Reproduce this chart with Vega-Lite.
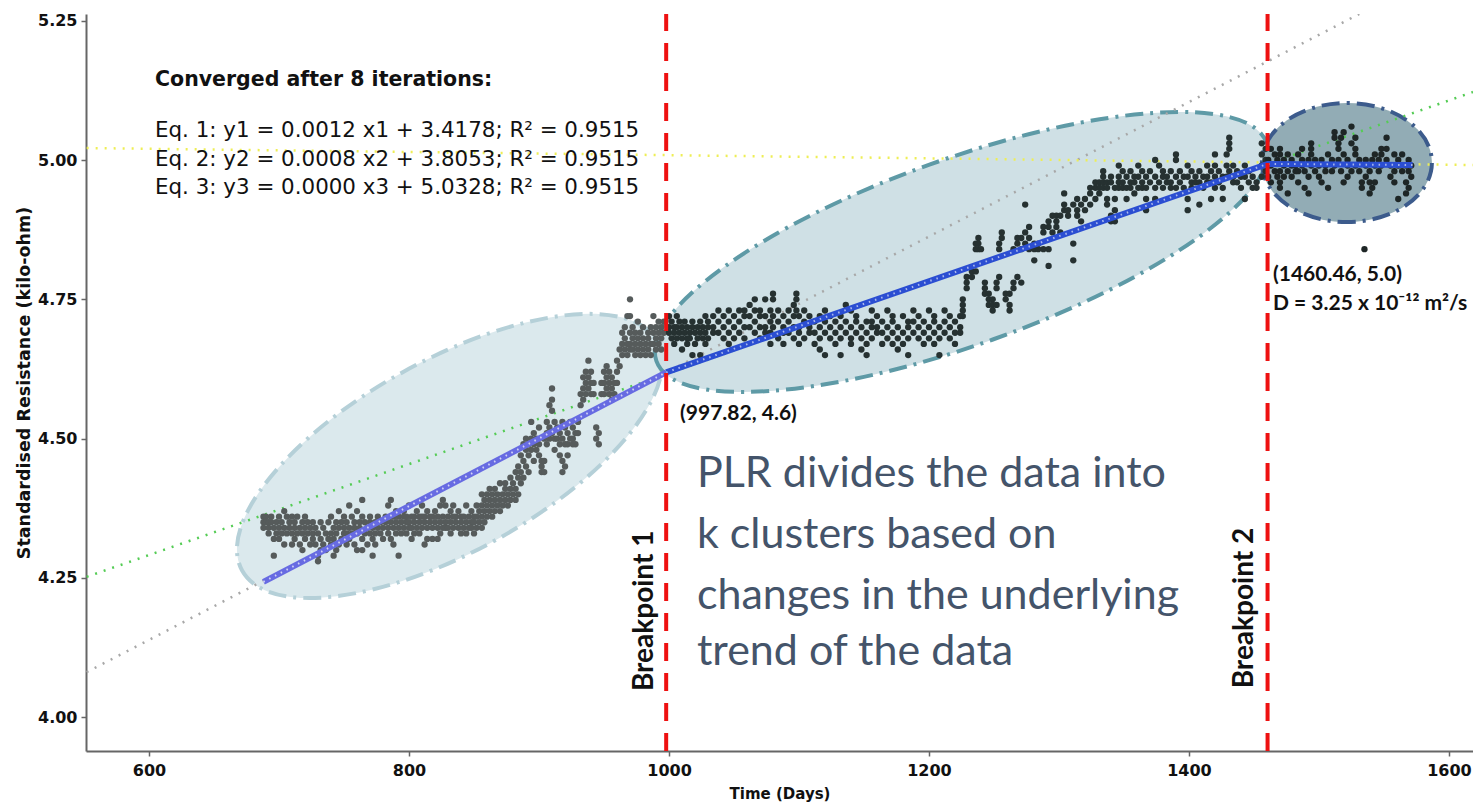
{
"$schema":"https://vega.github.io/schema/vega-lite/v6.json",
"width":1387,"height":737,
"autosize":{"type":"none"},
"padding":{"left":86,"top":14,"right":0,"bottom":54},
"background":"white",
"config":{"view":{"stroke":null},
"axis":{"domainColor":"#666","domainWidth":2,"tickColor":"#666","tickWidth":1.5,"tickSize":5,"grid":false,"labelFont":"DejaVu Sans","labelFontWeight":"bold","labelFontSize":16,"labelColor":"#111","titleFont":"DejaVu Sans","titleFontWeight":"bold","titleFontSize":15,"titleColor":"#111","labelFlush":false,"labelOverlap":false}},
"datasets":{
"e1":[{"x":831.2,"y":4.469}],
"e2":[{"x":1225,"y":4.835}],
"e3":[{"x":1521.5,"y":4.9955}],
"g1":[{"x":552,"y":4.081},{"x":1531,"y":5.262}],
"g2":[{"x":552,"y":4.252},{"x":1618.5,"y":5.122}],
"g3":[{"x":552,"y":5.0215},{"x":1618.5,"y":4.991}],
"s1":[{"x":688,"y":4.243},{"x":997.82,"y":4.619}],
"s2":[{"x":997.82,"y":4.619},{"x":1460.46,"y":4.993},{"x":1572,"y":4.991}],
"bpl":[{"x":997.82,"y":3.9395,"y2":5.262},{"x":1460.46,"y":3.9395,"y2":5.262}],
"c1":[
{"x":688,"y":4.36},{"x":688,"y":4.35},{"x":688,"y":4.34},{"x":690,"y":4.35},{"x":690,"y":4.36},{"x":692,"y":4.34},{"x":692,"y":4.35},{"x":692,"y":4.33},{"x":694,"y":4.36},{"x":694,"y":4.35},{"x":696,"y":4.34},{"x":696,"y":4.32},{"x":696,"y":4.29},{"x":698,"y":4.35},{"x":698,"y":4.33},{"x":700,"y":4.36},{"x":700,"y":4.34},{"x":700,"y":4.32},{"x":702,"y":4.35},{"x":702,"y":4.33},{"x":704,"y":4.37},{"x":704,"y":4.34},{"x":704,"y":4.31},{"x":706,"y":4.36},{"x":706,"y":4.33},{"x":708,"y":4.35},{"x":708,"y":4.34},{"x":710,"y":4.36},{"x":710,"y":4.33},{"x":710,"y":4.31},{"x":712,"y":4.35},{"x":712,"y":4.34},{"x":712,"y":4.32},{"x":714,"y":4.36},{"x":714,"y":4.33},{"x":716,"y":4.34},{"x":716,"y":4.31},{"x":718,"y":4.35},{"x":718,"y":4.33},{"x":718,"y":4.30},{"x":720,"y":4.36},{"x":720,"y":4.34},{"x":720,"y":4.32},{"x":722,"y":4.35},{"x":722,"y":4.33},{"x":724,"y":4.34},{"x":724,"y":4.31},{"x":726,"y":4.35},{"x":726,"y":4.33},{"x":726,"y":4.32},{"x":728,"y":4.34},{"x":728,"y":4.31},{"x":730,"y":4.33},{"x":730,"y":4.29},{"x":730,"y":4.28},{"x":732,"y":4.35},{"x":732,"y":4.32},{"x":732,"y":4.30},{"x":734,"y":4.34},{"x":734,"y":4.31},{"x":736,"y":4.33},{"x":736,"y":4.30},{"x":738,"y":4.35},{"x":738,"y":4.32},{"x":740,"y":4.36},{"x":740,"y":4.33},{"x":740,"y":4.31},{"x":742,"y":4.34},{"x":742,"y":4.32},{"x":742,"y":4.29},{"x":744,"y":4.35},{"x":744,"y":4.33},{"x":744,"y":4.30},{"x":746,"y":4.37},{"x":746,"y":4.34},{"x":746,"y":4.31},{"x":748,"y":4.35},{"x":748,"y":4.32},{"x":750,"y":4.36},{"x":750,"y":4.34},{"x":750,"y":4.33},{"x":752,"y":4.35},{"x":752,"y":4.33},{"x":752,"y":4.31},{"x":754,"y":4.38},{"x":754,"y":4.34},{"x":754,"y":4.32},{"x":756,"y":4.36},{"x":756,"y":4.33},{"x":758,"y":4.35},{"x":758,"y":4.34},{"x":758,"y":4.31},{"x":760,"y":4.37},{"x":760,"y":4.33},{"x":760,"y":4.30},{"x":762,"y":4.35},{"x":762,"y":4.34},{"x":764,"y":4.39},{"x":764,"y":4.36},{"x":764,"y":4.32},{"x":764,"y":4.30},{"x":766,"y":4.35},{"x":766,"y":4.33},{"x":768,"y":4.34},{"x":768,"y":4.31},{"x":770,"y":4.36},{"x":770,"y":4.35},{"x":770,"y":4.33},{"x":772,"y":4.34},{"x":772,"y":4.32},{"x":772,"y":4.29},{"x":774,"y":4.35},{"x":774,"y":4.33},{"x":774,"y":4.31},{"x":776,"y":4.36},{"x":776,"y":4.34},{"x":778,"y":4.35},{"x":778,"y":4.33},{"x":780,"y":4.34},{"x":780,"y":4.32},{"x":782,"y":4.36},{"x":782,"y":4.35},{"x":784,"y":4.38},{"x":784,"y":4.34},{"x":784,"y":4.33},{"x":786,"y":4.39},{"x":786,"y":4.35},{"x":786,"y":4.32},{"x":788,"y":4.36},{"x":788,"y":4.34},{"x":788,"y":4.31},{"x":790,"y":4.37},{"x":790,"y":4.35},{"x":790,"y":4.33},{"x":792,"y":4.36},{"x":792,"y":4.34},{"x":792,"y":4.29},{"x":794,"y":4.35},{"x":794,"y":4.33},{"x":796,"y":4.37},{"x":796,"y":4.36},{"x":796,"y":4.34},{"x":798,"y":4.36},{"x":798,"y":4.35},{"x":798,"y":4.33},{"x":800,"y":4.38},{"x":800,"y":4.35},{"x":800,"y":4.34},{"x":802,"y":4.36},{"x":802,"y":4.34},{"x":802,"y":4.32},{"x":804,"y":4.36},{"x":804,"y":4.35},{"x":804,"y":4.33},{"x":806,"y":4.37},{"x":806,"y":4.34},{"x":808,"y":4.36},{"x":808,"y":4.35},{"x":808,"y":4.33},{"x":810,"y":4.38},{"x":810,"y":4.36},{"x":810,"y":4.34},{"x":812,"y":4.36},{"x":812,"y":4.35},{"x":812,"y":4.31},{"x":814,"y":4.37},{"x":814,"y":4.34},{"x":814,"y":4.32},{"x":816,"y":4.36},{"x":816,"y":4.35},{"x":818,"y":4.36},{"x":818,"y":4.34},{"x":818,"y":4.32},{"x":820,"y":4.37},{"x":820,"y":4.35},{"x":822,"y":4.36},{"x":822,"y":4.34},{"x":822,"y":4.32},{"x":824,"y":4.38},{"x":824,"y":4.35},{"x":824,"y":4.33},{"x":826,"y":4.39},{"x":826,"y":4.36},{"x":826,"y":4.34},{"x":828,"y":4.38},{"x":828,"y":4.35},{"x":828,"y":4.34},{"x":830,"y":4.36},{"x":830,"y":4.34},{"x":832,"y":4.37},{"x":832,"y":4.35},{"x":832,"y":4.33},{"x":834,"y":4.38},{"x":834,"y":4.36},{"x":834,"y":4.34},{"x":836,"y":4.36},{"x":836,"y":4.35},{"x":838,"y":4.37},{"x":838,"y":4.34},{"x":840,"y":4.36},{"x":840,"y":4.35},{"x":840,"y":4.33},{"x":842,"y":4.36},{"x":842,"y":4.34},{"x":844,"y":4.38},{"x":844,"y":4.35},{"x":844,"y":4.33},{"x":846,"y":4.36},{"x":846,"y":4.34},{"x":848,"y":4.37},{"x":848,"y":4.35},{"x":848,"y":4.34},{"x":850,"y":4.36},{"x":850,"y":4.35},{"x":850,"y":4.33},{"x":852,"y":4.38},{"x":852,"y":4.36},{"x":852,"y":4.34},{"x":854,"y":4.37},{"x":854,"y":4.35},{"x":856,"y":4.40},{"x":856,"y":4.38},{"x":856,"y":4.36},{"x":856,"y":4.34},{"x":858,"y":4.39},{"x":858,"y":4.37},{"x":858,"y":4.35},{"x":860,"y":4.40},{"x":860,"y":4.38},{"x":860,"y":4.36},
{"x":862,"y":4.41},{"x":862,"y":4.39},{"x":862,"y":4.37},{"x":864,"y":4.40},{"x":864,"y":4.38},{"x":864,"y":4.36},{"x":866,"y":4.41},{"x":866,"y":4.39},{"x":866,"y":4.37},{"x":868,"y":4.40},{"x":868,"y":4.38},{"x":870,"y":4.42},{"x":870,"y":4.39},{"x":870,"y":4.37},{"x":872,"y":4.40},{"x":872,"y":4.38},{"x":874,"y":4.42},{"x":874,"y":4.41},{"x":874,"y":4.39},{"x":876,"y":4.40},{"x":876,"y":4.38},{"x":878,"y":4.43},{"x":878,"y":4.41},{"x":878,"y":4.39},{"x":880,"y":4.42},{"x":880,"y":4.40},{"x":882,"y":4.44},{"x":882,"y":4.41},{"x":882,"y":4.39},{"x":884,"y":4.45},{"x":884,"y":4.43},{"x":884,"y":4.40},{"x":886,"y":4.47},{"x":886,"y":4.44},{"x":886,"y":4.42},{"x":888,"y":4.49},{"x":888,"y":4.46},{"x":888,"y":4.43},{"x":890,"y":4.50},{"x":890,"y":4.48},{"x":890,"y":4.45},{"x":892,"y":4.49},{"x":892,"y":4.47},{"x":892,"y":4.44},{"x":894,"y":4.53},{"x":894,"y":4.50},{"x":894,"y":4.48},{"x":896,"y":4.51},{"x":896,"y":4.49},{"x":896,"y":4.46},{"x":898,"y":4.50},{"x":898,"y":4.48},{"x":900,"y":4.52},{"x":900,"y":4.49},{"x":900,"y":4.47},{"x":902,"y":4.46},{"x":902,"y":4.45},{"x":902,"y":4.44},{"x":904,"y":4.50},{"x":904,"y":4.46},{"x":904,"y":4.44},{"x":906,"y":4.53},{"x":906,"y":4.51},{"x":906,"y":4.49},{"x":908,"y":4.56},{"x":908,"y":4.52},{"x":908,"y":4.50},{"x":910,"y":4.59},{"x":910,"y":4.57},{"x":910,"y":4.55},{"x":910,"y":4.51},{"x":912,"y":4.53},{"x":912,"y":4.50},{"x":912,"y":4.48},{"x":914,"y":4.52},{"x":914,"y":4.50},{"x":916,"y":4.51},{"x":916,"y":4.49},{"x":916,"y":4.47},{"x":918,"y":4.53},{"x":918,"y":4.50},{"x":918,"y":4.46},{"x":918,"y":4.44},{"x":920,"y":4.52},{"x":920,"y":4.49},{"x":920,"y":4.45},{"x":922,"y":4.51},{"x":922,"y":4.49},{"x":922,"y":4.47},{"x":924,"y":4.53},{"x":924,"y":4.50},{"x":926,"y":4.52},{"x":926,"y":4.50},{"x":926,"y":4.49},{"x":928,"y":4.51},{"x":928,"y":4.49},{"x":930,"y":4.53},{"x":930,"y":4.51},{"x":932,"y":4.58},{"x":932,"y":4.56},{"x":934,"y":4.61},{"x":934,"y":4.59},{"x":934,"y":4.57},{"x":936,"y":4.62},{"x":936,"y":4.60},{"x":936,"y":4.58},{"x":938,"y":4.64},{"x":938,"y":4.61},{"x":938,"y":4.59},{"x":940,"y":4.62},{"x":940,"y":4.60},{"x":940,"y":4.58},{"x":942,"y":4.60},{"x":942,"y":4.58},{"x":944,"y":4.52},{"x":944,"y":4.50},{"x":946,"y":4.51},{"x":946,"y":4.49},{"x":948,"y":4.60},{"x":948,"y":4.58},{"x":950,"y":4.62},{"x":950,"y":4.60},{"x":950,"y":4.58},{"x":952,"y":4.63},{"x":952,"y":4.61},{"x":952,"y":4.59},{"x":954,"y":4.62},{"x":954,"y":4.60},{"x":954,"y":4.58},{"x":956,"y":4.61},{"x":956,"y":4.59},{"x":956,"y":4.57},{"x":958,"y":4.60},{"x":958,"y":4.58},{"x":960,"y":4.64},{"x":960,"y":4.62},{"x":960,"y":4.60},{"x":962,"y":4.66},{"x":962,"y":4.63},{"x":964,"y":4.69},{"x":964,"y":4.67},{"x":964,"y":4.65},{"x":966,"y":4.70},{"x":966,"y":4.68},{"x":966,"y":4.66},{"x":968,"y":4.72},{"x":968,"y":4.67},{"x":968,"y":4.65},{"x":970,"y":4.75},{"x":970,"y":4.72},{"x":970,"y":4.69},{"x":970,"y":4.67},{"x":970,"y":4.66},{"x":972,"y":4.70},{"x":972,"y":4.68},{"x":972,"y":4.66},{"x":974,"y":4.69},{"x":974,"y":4.67},{"x":974,"y":4.65},{"x":976,"y":4.71},{"x":976,"y":4.68},{"x":976,"y":4.66},{"x":978,"y":4.69},{"x":978,"y":4.67},{"x":978,"y":4.65},{"x":980,"y":4.70},{"x":980,"y":4.68},{"x":980,"y":4.66},{"x":982,"y":4.67},{"x":982,"y":4.65},{"x":984,"y":4.69},{"x":984,"y":4.68},{"x":984,"y":4.66},{"x":986,"y":4.70},{"x":986,"y":4.67},{"x":986,"y":4.65},{"x":988,"y":4.72},{"x":988,"y":4.69},{"x":988,"y":4.67},{"x":990,"y":4.70},{"x":990,"y":4.68},{"x":990,"y":4.66},{"x":992,"y":4.71},{"x":992,"y":4.69},{"x":992,"y":4.67},{"x":994,"y":4.70},{"x":994,"y":4.68},{"x":994,"y":4.66},{"x":996,"y":4.71},{"x":996,"y":4.69}],
"c2":[
{"x":1000,"y":4.72},{"x":1000,"y":4.70},{"x":1000,"y":4.69},{"x":1002,"y":4.71},{"x":1002,"y":4.68},{"x":1004,"y":4.70},{"x":1004,"y":4.69},{"x":1004,"y":4.67},{"x":1006,"y":4.72},{"x":1006,"y":4.70},{"x":1006,"y":4.68},{"x":1008,"y":4.71},{"x":1008,"y":4.69},{"x":1010,"y":4.70},{"x":1010,"y":4.68},{"x":1010,"y":4.66},{"x":1012,"y":4.71},{"x":1012,"y":4.69},{"x":1014,"y":4.70},{"x":1014,"y":4.68},{"x":1014,"y":4.67},{"x":1016,"y":4.69},{"x":1016,"y":4.68},{"x":1018,"y":4.71},{"x":1018,"y":4.70},{"x":1018,"y":4.65},{"x":1020,"y":4.69},{"x":1020,"y":4.67},{"x":1022,"y":4.70},{"x":1022,"y":4.68},{"x":1024,"y":4.71},{"x":1024,"y":4.69},{"x":1024,"y":4.65},{"x":1026,"y":4.70},{"x":1026,"y":4.68},{"x":1028,"y":4.72},{"x":1028,"y":4.69},{"x":1028,"y":4.67},{"x":1030,"y":4.71},{"x":1030,"y":4.70},{"x":1030,"y":4.68},{"x":1034,"y":4.72},{"x":1034,"y":4.70},{"x":1034,"y":4.69},{"x":1038,"y":4.73},{"x":1038,"y":4.71},{"x":1038,"y":4.69},{"x":1042,"y":4.72},{"x":1042,"y":4.70},{"x":1042,"y":4.68},{"x":1046,"y":4.73},{"x":1046,"y":4.71},{"x":1046,"y":4.69},{"x":1046,"y":4.67},{"x":1050,"y":4.72},{"x":1050,"y":4.70},{"x":1050,"y":4.68},{"x":1054,"y":4.73},{"x":1054,"y":4.71},{"x":1054,"y":4.69},{"x":1058,"y":4.73},{"x":1058,"y":4.72},{"x":1058,"y":4.70},{"x":1058,"y":4.68},{"x":1062,"y":4.74},{"x":1062,"y":4.72},{"x":1062,"y":4.70},{"x":1066,"y":4.75},{"x":1066,"y":4.73},{"x":1066,"y":4.71},{"x":1066,"y":4.69},{"x":1070,"y":4.73},{"x":1070,"y":4.72},{"x":1070,"y":4.70},{"x":1070,"y":4.68},{"x":1074,"y":4.75},{"x":1074,"y":4.72},{"x":1074,"y":4.70},{"x":1074,"y":4.69},{"x":1078,"y":4.73},{"x":1078,"y":4.71},{"x":1078,"y":4.69},{"x":1078,"y":4.67},{"x":1080,"y":4.76},{"x":1080,"y":4.75},{"x":1080,"y":4.72},{"x":1080,"y":4.70},{"x":1084,"y":4.73},{"x":1084,"y":4.71},{"x":1084,"y":4.68},{"x":1088,"y":4.72},{"x":1088,"y":4.70},{"x":1088,"y":4.69},{"x":1088,"y":4.67},{"x":1092,"y":4.73},{"x":1092,"y":4.71},{"x":1092,"y":4.69},{"x":1096,"y":4.74},{"x":1096,"y":4.72},{"x":1096,"y":4.70},{"x":1096,"y":4.68},{"x":1098,"y":4.76},{"x":1098,"y":4.75},{"x":1098,"y":4.73},{"x":1100,"y":4.72},{"x":1100,"y":4.70},{"x":1100,"y":4.69},{"x":1100,"y":4.67},{"x":1104,"y":4.73},{"x":1104,"y":4.71},{"x":1104,"y":4.68},{"x":1108,"y":4.72},{"x":1108,"y":4.70},{"x":1108,"y":4.69},{"x":1112,"y":4.71},{"x":1112,"y":4.69},{"x":1112,"y":4.67},{"x":1116,"y":4.72},{"x":1116,"y":4.70},{"x":1116,"y":4.68},{"x":1116,"y":4.66},{"x":1120,"y":4.73},{"x":1120,"y":4.71},{"x":1120,"y":4.69},{"x":1120,"y":4.65},{"x":1124,"y":4.72},{"x":1124,"y":4.70},{"x":1124,"y":4.68},{"x":1128,"y":4.71},{"x":1128,"y":4.69},{"x":1128,"y":4.67},{"x":1132,"y":4.72},{"x":1132,"y":4.70},{"x":1132,"y":4.68},{"x":1132,"y":4.65},{"x":1136,"y":4.74},{"x":1136,"y":4.71},{"x":1136,"y":4.69},{"x":1140,"y":4.73},{"x":1140,"y":4.70},{"x":1140,"y":4.68},{"x":1140,"y":4.67},{"x":1144,"y":4.72},{"x":1144,"y":4.71},{"x":1144,"y":4.69},{"x":1148,"y":4.70},{"x":1148,"y":4.68},{"x":1148,"y":4.66},{"x":1152,"y":4.71},{"x":1152,"y":4.69},{"x":1152,"y":4.67},{"x":1152,"y":4.65},{"x":1156,"y":4.73},{"x":1156,"y":4.71},{"x":1156,"y":4.70},{"x":1156,"y":4.68},{"x":1160,"y":4.72},{"x":1160,"y":4.70},{"x":1160,"y":4.69},{"x":1164,"y":4.71},{"x":1164,"y":4.69},{"x":1164,"y":4.67},{"x":1168,"y":4.73},{"x":1168,"y":4.70},{"x":1168,"y":4.68},{"x":1172,"y":4.72},{"x":1172,"y":4.71},{"x":1172,"y":4.69},{"x":1172,"y":4.67},{"x":1176,"y":4.70},{"x":1176,"y":4.68},{"x":1176,"y":4.66},{"x":1180,"y":4.72},{"x":1180,"y":4.69},{"x":1180,"y":4.67},{"x":1184,"y":4.71},{"x":1184,"y":4.70},{"x":1184,"y":4.68},{"x":1184,"y":4.65},{"x":1188,"y":4.73},{"x":1188,"y":4.71},{"x":1188,"y":4.69},{"x":1192,"y":4.72},{"x":1192,"y":4.70},{"x":1192,"y":4.68},{"x":1196,"y":4.71},{"x":1196,"y":4.69},{"x":1196,"y":4.67},{"x":1200,"y":4.73},{"x":1200,"y":4.70},{"x":1200,"y":4.68},{"x":1204,"y":4.72},{"x":1204,"y":4.71},{"x":1204,"y":4.69},{"x":1204,"y":4.67},{"x":1208,"y":4.70},{"x":1208,"y":4.68},{"x":1208,"y":4.65},{"x":1212,"y":4.73},{"x":1212,"y":4.71},{"x":1212,"y":4.69},{"x":1216,"y":4.72},{"x":1216,"y":4.70},{"x":1216,"y":4.68},{"x":1220,"y":4.71},{"x":1220,"y":4.69},{"x":1220,"y":4.67},{"x":1224,"y":4.72},{"x":1224,"y":4.70},{"x":1224,"y":4.69},{"x":1226,"y":4.75},{"x":1226,"y":4.74},{"x":1226,"y":4.73},{"x":1226,"y":4.72},
{"x":1229,"y":4.77},{"x":1229,"y":4.78},{"x":1229,"y":4.79},{"x":1233,"y":4.79},{"x":1233,"y":4.80},{"x":1236,"y":4.80},{"x":1236,"y":4.84},{"x":1236,"y":4.85},{"x":1238,"y":4.86},{"x":1238,"y":4.85},{"x":1238,"y":4.84},{"x":1240,"y":4.84},{"x":1243,"y":4.78},{"x":1243,"y":4.77},{"x":1243,"y":4.76},{"x":1246,"y":4.76},{"x":1246,"y":4.75},{"x":1246,"y":4.74},{"x":1249,"y":4.75},{"x":1249,"y":4.74},{"x":1249,"y":4.73},{"x":1252,"y":4.74},{"x":1252,"y":4.77},{"x":1252,"y":4.78},{"x":1254,"y":4.79},{"x":1254,"y":4.84},{"x":1254,"y":4.85},{"x":1256,"y":4.86},{"x":1256,"y":4.87},{"x":1259,"y":4.76},{"x":1259,"y":4.75},{"x":1262,"y":4.74},{"x":1262,"y":4.73},{"x":1262,"y":4.76},{"x":1265,"y":4.78},{"x":1265,"y":4.77},{"x":1265,"y":4.84},{"x":1268,"y":4.79},{"x":1268,"y":4.85},{"x":1268,"y":4.86},{"x":1271,"y":4.78},{"x":1271,"y":4.84},{"x":1271,"y":4.86},{"x":1274,"y":4.85},{"x":1274,"y":4.87},{"x":1274,"y":4.92},{"x":1277,"y":4.88},{"x":1277,"y":4.86},{"x":1277,"y":4.84},{"x":1281,"y":4.85},{"x":1281,"y":4.82},{"x":1281,"y":4.84},{"x":1284,"y":4.84},{"x":1284,"y":4.85},{"x":1288,"y":4.87},{"x":1288,"y":4.84},{"x":1288,"y":4.88},{"x":1292,"y":4.81},{"x":1292,"y":4.84},{"x":1292,"y":4.88},{"x":1292,"y":4.89},{"x":1295,"y":4.90},{"x":1295,"y":4.87},{"x":1298,"y":4.89},{"x":1298,"y":4.88},{"x":1298,"y":4.90},{"x":1301,"y":4.90},{"x":1301,"y":4.87},{"x":1304,"y":4.91},{"x":1304,"y":4.92},{"x":1304,"y":4.94},{"x":1307,"y":4.90},{"x":1307,"y":4.91},{"x":1311,"y":4.82},{"x":1311,"y":4.85},{"x":1311,"y":4.92},{"x":1314,"y":4.91},{"x":1314,"y":4.90},{"x":1314,"y":4.93},{"x":1317,"y":4.89},{"x":1317,"y":4.92},{"x":1320,"y":4.93},{"x":1320,"y":4.91},{"x":1324,"y":4.94},{"x":1324,"y":4.92},{"x":1324,"y":4.95},{"x":1328,"y":4.95},{"x":1328,"y":4.96},{"x":1328,"y":4.93},{"x":1331,"y":4.96},{"x":1331,"y":4.95},{"x":1331,"y":4.94},{"x":1334,"y":4.97},{"x":1334,"y":4.96},{"x":1334,"y":4.95},{"x":1334,"y":4.98},{"x":1337,"y":4.96},{"x":1337,"y":4.95},{"x":1337,"y":4.93},{"x":1337,"y":4.92},{"x":1340,"y":4.96},{"x":1340,"y":4.97},{"x":1340,"y":4.89},{"x":1340,"y":4.90},{"x":1343,"y":4.95},{"x":1343,"y":4.93},{"x":1343,"y":4.91},{"x":1343,"y":4.89},{"x":1346,"y":4.97},{"x":1346,"y":4.96},{"x":1346,"y":4.95},{"x":1346,"y":4.99},{"x":1349,"y":4.98},{"x":1349,"y":4.96},{"x":1349,"y":4.95},{"x":1352,"y":4.97},{"x":1352,"y":4.95},{"x":1352,"y":4.93},{"x":1355,"y":4.98},{"x":1355,"y":4.96},{"x":1355,"y":4.95},{"x":1358,"y":4.97},{"x":1358,"y":4.96},{"x":1358,"y":4.94},{"x":1361,"y":4.99},{"x":1361,"y":4.97},{"x":1361,"y":4.95},{"x":1364,"y":4.98},{"x":1364,"y":4.96},{"x":1364,"y":4.95},{"x":1367,"y":4.97},{"x":1367,"y":4.95},{"x":1367,"y":4.93},{"x":1367,"y":4.91},{"x":1370,"y":4.98},{"x":1370,"y":4.96},{"x":1374,"y":5.00},{"x":1374,"y":4.97},{"x":1374,"y":4.95},{"x":1374,"y":4.93},{"x":1377,"y":4.99},{"x":1377,"y":4.96},{"x":1380,"y":4.98},{"x":1380,"y":4.97},{"x":1380,"y":4.95},{"x":1383,"y":4.97},{"x":1383,"y":4.96},{"x":1386,"y":4.98},{"x":1386,"y":4.96},{"x":1386,"y":4.95},{"x":1390,"y":5.01},{"x":1390,"y":5.00},{"x":1390,"y":4.97},{"x":1390,"y":4.95},{"x":1393,"y":4.98},{"x":1393,"y":4.96},{"x":1396,"y":4.97},{"x":1396,"y":4.95},{"x":1399,"y":4.99},{"x":1399,"y":4.97},{"x":1399,"y":4.93},{"x":1399,"y":4.91},{"x":1402,"y":4.98},{"x":1402,"y":4.96},{"x":1402,"y":4.95},{"x":1405,"y":4.97},{"x":1405,"y":4.96},{"x":1408,"y":4.98},{"x":1408,"y":4.96},{"x":1408,"y":4.92},{"x":1411,"y":4.97},{"x":1411,"y":4.95},{"x":1414,"y":4.99},{"x":1414,"y":4.97},{"x":1414,"y":4.96},{"x":1417,"y":4.98},{"x":1417,"y":4.96},{"x":1417,"y":4.93},{"x":1420,"y":5.01},{"x":1420,"y":4.99},{"x":1420,"y":4.97},{"x":1420,"y":4.95},{"x":1423,"y":4.98},{"x":1423,"y":4.96},{"x":1426,"y":4.97},{"x":1426,"y":4.95},{"x":1426,"y":4.93},{"x":1429,"y":5.01},{"x":1429,"y":4.99},{"x":1429,"y":4.97},{"x":1431,"y":5.04},{"x":1431,"y":5.03},{"x":1431,"y":5.02},{"x":1431,"y":4.98},{"x":1434,"y":4.99},{"x":1434,"y":4.97},{"x":1434,"y":4.96},{"x":1437,"y":4.98},{"x":1437,"y":4.96},{"x":1440,"y":4.97},{"x":1440,"y":4.95},{"x":1443,"y":4.99},{"x":1443,"y":4.97},{"x":1443,"y":4.93},{"x":1446,"y":4.98},{"x":1446,"y":4.96},{"x":1449,"y":4.97},{"x":1449,"y":4.95},{"x":1452,"y":4.96},{"x":1452,"y":4.95},{"x":1456,"y":5.03},{"x":1456,"y":5.01},{"x":1456,"y":4.99},{"x":1456,"y":4.97},{"x":1459,"y":5.02},{"x":1459,"y":5.00},{"x":1459,"y":4.98}],
"c3":[
{"x":1461,"y":5.00},{"x":1461,"y":4.99},{"x":1461,"y":4.97},{"x":1463,"y":5.02},{"x":1463,"y":4.99},{"x":1463,"y":4.96},{"x":1466,"y":5.01},{"x":1466,"y":4.98},{"x":1468,"y":5.00},{"x":1468,"y":4.97},{"x":1470,"y":5.02},{"x":1470,"y":5.01},{"x":1470,"y":4.98},{"x":1470,"y":4.96},{"x":1470,"y":4.95},{"x":1473,"y":5.00},{"x":1473,"y":4.99},{"x":1473,"y":4.97},{"x":1476,"y":5.01},{"x":1476,"y":4.98},{"x":1476,"y":4.94},{"x":1479,"y":5.00},{"x":1479,"y":4.99},{"x":1479,"y":4.97},{"x":1482,"y":4.99},{"x":1482,"y":4.98},{"x":1484,"y":5.01},{"x":1484,"y":4.98},{"x":1484,"y":4.96},{"x":1487,"y":5.02},{"x":1487,"y":5.00},{"x":1487,"y":4.99},{"x":1489,"y":4.98},{"x":1489,"y":4.95},{"x":1492,"y":5.00},{"x":1492,"y":4.97},{"x":1492,"y":4.94},{"x":1494,"y":5.03},{"x":1494,"y":5.02},{"x":1494,"y":5.01},{"x":1494,"y":4.99},{"x":1497,"y":5.00},{"x":1497,"y":4.98},{"x":1500,"y":4.99},{"x":1500,"y":4.97},{"x":1502,"y":5.00},{"x":1502,"y":4.96},{"x":1505,"y":4.99},{"x":1505,"y":4.98},{"x":1507,"y":5.01},{"x":1507,"y":4.95},{"x":1510,"y":5.00},{"x":1510,"y":4.98},{"x":1512,"y":5.05},{"x":1512,"y":5.04},{"x":1512,"y":4.99},{"x":1515,"y":5.03},{"x":1515,"y":5.02},{"x":1515,"y":5.00},{"x":1517,"y":5.04},{"x":1517,"y":4.98},{"x":1519,"y":5.05},{"x":1519,"y":5.01},{"x":1519,"y":4.96},{"x":1522,"y":5.00},{"x":1522,"y":4.99},{"x":1522,"y":4.97},{"x":1525,"y":5.06},{"x":1525,"y":5.03},{"x":1525,"y":4.98},{"x":1528,"y":5.04},{"x":1528,"y":5.02},{"x":1528,"y":5.01},{"x":1528,"y":4.99},{"x":1531,"y":5.00},{"x":1531,"y":4.98},{"x":1533,"y":4.96},{"x":1533,"y":4.95},{"x":1535,"y":4.84},{"x":1536,"y":5.00},{"x":1536,"y":4.99},{"x":1536,"y":4.97},{"x":1539,"y":4.98},{"x":1539,"y":4.96},{"x":1539,"y":4.94},{"x":1541,"y":5.00},{"x":1541,"y":4.95},{"x":1543,"y":5.01},{"x":1543,"y":4.99},{"x":1543,"y":4.96},{"x":1546,"y":5.00},{"x":1546,"y":4.98},{"x":1548,"y":5.02},{"x":1548,"y":5.01},{"x":1548,"y":4.99},{"x":1552,"y":5.04},{"x":1552,"y":5.02},{"x":1552,"y":5.00},{"x":1555,"y":4.99},{"x":1555,"y":4.97},{"x":1558,"y":5.01},{"x":1558,"y":4.98},{"x":1558,"y":4.96},{"x":1561,"y":5.00},{"x":1561,"y":4.99},{"x":1561,"y":4.93},{"x":1564,"y":5.01},{"x":1564,"y":4.98},{"x":1567,"y":4.99},{"x":1567,"y":4.96},{"x":1567,"y":4.94},{"x":1569,"y":5.00},{"x":1569,"y":4.98},{"x":1569,"y":4.95},{"x":1571,"y":4.99},{"x":1571,"y":4.97}],
"conv":[{"x":604.6,"y":5.1328,"t":"Converged after 8 iterations:"}],
"eqs":[{"x":604.6,"y":5.0418,"t":"Eq. 1: y1 = 0.0012 x1 + 3.4178; R² = 0.9515"},{"x":604.6,"y":4.9898,"t":"Eq. 2: y2 = 0.0008 x2 + 3.8053; R² = 0.9515"},{"x":604.6,"y":4.9385,"t":"Eq. 3: y3 = 0.0000 x3 + 5.0328; R² = 0.9515"}],
"bp":[{"x":981.5,"y":4.191,"t":"Breakpoint 1"},{"x":1443,"y":4.196,"t":"Breakpoint 2"}],
"lbl":[{"x":1008.5,"y":4.533,"t":"(997.82, 4.6)"},{"x":1464.6,"y":4.783,"t":"(1460.46, 5.0)"},{"x":1464.6,"y":4.731,"t":"D = 3.25 x 10⁻¹² m²/s"}],
"plr":[{"x":1021.5,"y":4.413,"t":"PLR divides the data into"},{"x":1021.5,"y":4.304,"t":"k clusters based on"},{"x":1021.5,"y":4.194,"t":"changes in the underlying"},{"x":1021.5,"y":4.094,"t":"trend of the data"}]
},
"encoding":{
"x":{"field":"x","type":"quantitative","scale":{"domain":[551.5,1618.5],"nice":false,"zero":false},"axis":{"values":[600,800,1000,1200,1400,1600],"format":"d","labelPadding":6,"titlePadding":8},"title":"Time (Days)"},
"y":{"field":"y","type":"quantitative","scale":{"domain":[3.9395,5.262],"nice":false,"zero":false},"axis":{"values":[4,4.25,4.5,4.75,5,5.25],"format":".2f","labelPadding":4,"titlePadding":4,"titleFontSize":17.5},"title":"Standardised Resistance (kilo-ohm)"}},
"layer":[
{"data":{"name":"e1"},"mark":{"type":"point","shape":"M-1,0A1,0.405,0,1,0,1,0A1,0.405,0,1,0,-1,0Z","filled":true,"fill":"#dbe9ed","stroke":"#b5d0d8","strokeWidth":4,"strokeDash":[18,7,3,7],"opacity":1,"fillOpacity":1,"strokeOpacity":1,"size":224676,"angle":331.1}},
{"data":{"name":"e2"},"mark":{"type":"point","shape":"M-1,0A1,0.287,0,1,0,1,0A1,0.287,0,1,0,-1,0Z","filled":true,"fill":"#cfe0e5","stroke":"#5e9aa6","strokeWidth":4,"strokeDash":[18,7,3,7],"opacity":1,"fillOpacity":1,"strokeOpacity":1,"size":419904,"angle":340.3}},
{"data":{"name":"e3"},"mark":{"type":"point","shape":"M-1,0A1,0.70,0,1,0,1,0A1,0.70,0,1,0,-1,0Z","filled":true,"fill":"#92acb5","stroke":"#3c5b8c","strokeWidth":4,"strokeDash":[18,7,3,7],"opacity":1,"fillOpacity":1,"strokeOpacity":1,"size":28900,"angle":0}},
{"data":{"name":"g1"},"mark":{"type":"line","color":"#a8a8a8","strokeWidth":2.5,"strokeDash":[2,7],"clip":true}},
{"data":{"name":"g2"},"mark":{"type":"line","color":"#55cc55","strokeWidth":2.5,"strokeDash":[2,7],"clip":true}},
{"data":{"name":"g3"},"mark":{"type":"line","color":"#eeee55","strokeWidth":2.5,"strokeDash":[2,7],"clip":true}},
{"data":{"name":"c1"},"mark":{"type":"circle","color":"#565b5b","opacity":1,"size":40}},
{"data":{"name":"c2"},"mark":{"type":"circle","color":"#263131","opacity":1,"size":40}},
{"data":{"name":"c3"},"mark":{"type":"circle","color":"#1e2626","opacity":1,"size":40}},
{"data":{"name":"s1"},"mark":{"type":"line","color":"#676be2","strokeWidth":6}},
{"data":{"name":"s2"},"mark":{"type":"line","color":"#2b4ed2","strokeWidth":6}},
{"data":{"name":"s1"},"mark":{"type":"line","color":"#ffffff","strokeWidth":2,"strokeDash":[1.5,5],"opacity":0.7}},
{"data":{"name":"s2"},"mark":{"type":"line","color":"#ffffff","strokeWidth":2,"strokeDash":[1.5,5],"opacity":0.6}},
{"data":{"name":"bpl"},"mark":{"type":"rule","color":"#ee1111","strokeWidth":4,"strokeDash":[18,12]},"encoding":{"y2":{"field":"y2"}}},
{"data":{"name":"conv"},"mark":{"type":"text","font":"DejaVu Sans","fontWeight":"bold","fontSize":20.5,"align":"left","baseline":"alphabetic","color":"#111"},"encoding":{"text":{"field":"t"}}},
{"data":{"name":"eqs"},"mark":{"type":"text","font":"DejaVu Sans","fontSize":21.4,"align":"left","baseline":"alphabetic","color":"#111"},"encoding":{"text":{"field":"t"}}},
{"data":{"name":"bp"},"mark":{"type":"text","font":"Lato","fontWeight":"bold","fontSize":28,"align":"center","baseline":"middle","angle":270,"color":"#111"},"encoding":{"text":{"field":"t"}}},
{"data":{"name":"lbl"},"mark":{"type":"text","font":"Lato","fontWeight":"bold","fontSize":21,"align":"left","baseline":"alphabetic","color":"#111"},"encoding":{"text":{"field":"t"}}},
{"data":{"name":"plr"},"mark":{"type":"text","font":"Lato","fontSize":43,"align":"left","baseline":"alphabetic","color":"#44546a"},"encoding":{"text":{"field":"t"}}}
]
}
